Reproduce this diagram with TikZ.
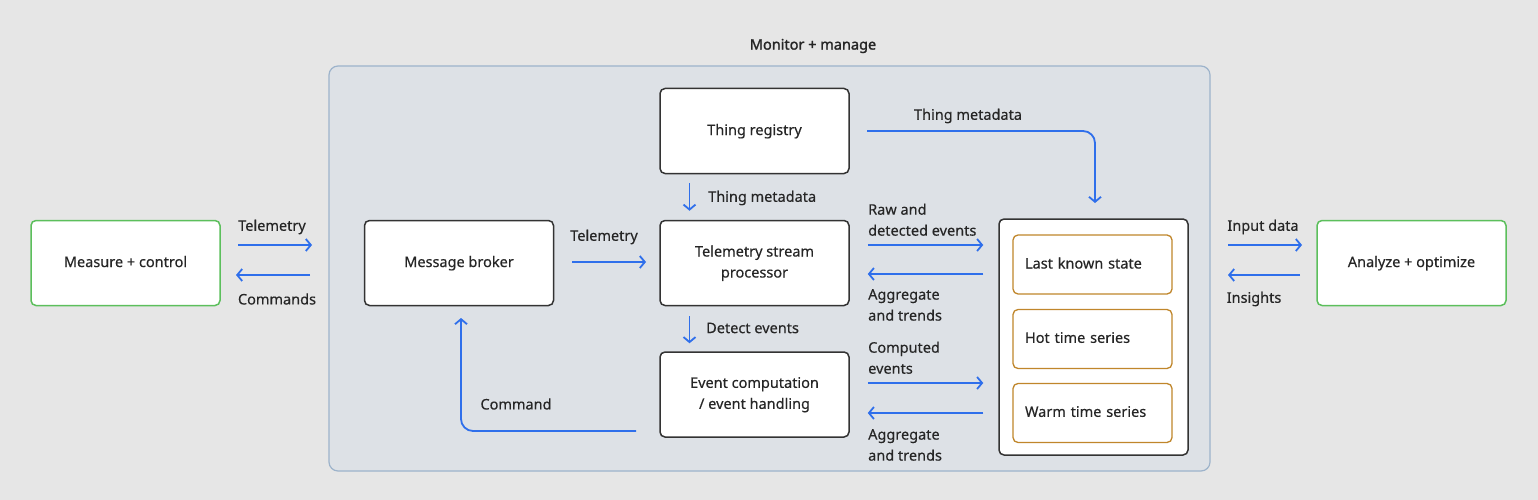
\documentclass[tikz,border=0pt]{standalone}
\usepackage{fontspec}
\setmainfont{Noto Sans}[FakeBold=0.35]
\newfontfamily\titlefont{Noto Sans}[FakeBold=1.6]
\usetikzlibrary{arrows.meta,positioning}
\definecolor{pagebg}{HTML}{E6E6E6}
\definecolor{panelbg}{HTML}{DDE1E6}
\definecolor{panelline}{HTML}{9DB3CB}
\definecolor{boxline}{HTML}{333333}
\definecolor{extgreen}{HTML}{5CBF5C}
\definecolor{storeline}{HTML}{C0862B}
\definecolor{flowblue}{HTML}{2F6FEB}
\definecolor{txt}{HTML}{262626}

\begin{document}
\begin{tikzpicture}[x=1pt,y=-1pt,
    box/.style={draw=boxline, fill=white, line width=1.5pt, rounded corners=5pt,
      minimum width=189pt, minimum height=85pt, align=center, text=txt,
      font=\fontsize{14.5}{21}\selectfont, text depth=0.3em},
    ext/.style={box, draw=extgreen},
    storebox/.style={box, draw=storeline, line width=1.3pt, minimum width=159pt,
      minimum height=59pt, text width=135pt, align=left},
    flow/.style={draw=flowblue, line width=1.8pt,
      -{Straight Barb[length=5pt,width=12pt]}},
    lbl/.style={text=txt, font=\fontsize{14.5}{21}\selectfont, align=left, inner sep=0pt}]
  \useasboundingbox[fill=pagebg] (0,0) rectangle (1538,500);

  % monitor + manage panel
  \node (panel) [draw=panelline, fill=panelbg, line width=1.2pt, rounded corners=9pt,
    minimum width=881pt, minimum height=405pt] at (769.5,268.5) {};
  \node (title) [lbl, font=\fontsize{14.5}{21}\titlefont] at (813,46) {Monitor + manage};

  \node (measure) [ext] at (125.5,263) {Measure + control};
  \node (analyze) [ext] at (1411.5,263) {Analyze + optimize};
  \node (broker) [box] at (459,263) {Message broker};
  \node (registry) [box] at (754.5,131) {Thing registry};
  \node (stream) [box] at (754.5,263) {Telemetry stream\\processor};
  \node (event) [box] at (754.5,394.5) {Event computation\\/ event handling};

  \node (store) [box, minimum height=236pt] at (1093.5,337) {};
  \node (last) [storebox] at (1092.5,264.5) {Last known state};
  \node (hot) [storebox] at (1092.5,339) {Hot time series};
  \node (warm) [storebox] at (1092.5,413) {Warm time series};

  % connector end points
  \coordinate (c1) at (238,245);  \coordinate (c2) at (312,245);
  \coordinate (c3) at (310,275);  \coordinate (c4) at (236,275);
  \coordinate (c5) at (572,262);  \coordinate (c6) at (646,262);
  \coordinate (c7) at (867,131);  \coordinate (c8) at (1095,203);
  \coordinate (c9) at (636,431);  \coordinate (c10) at (461,318);
  \coordinate (i1) at (1228,245); \coordinate (i2) at (1302,245);
  \coordinate (i3) at (1300,275); \coordinate (i4) at (1228,275);

  \draw[flow] (c1) -- (c2);
  \draw[flow] (c3) -- (c4);
  \draw[flow] (i1) -- (i2);
  \draw[flow] (i3) -- (i4);
  \draw[flow] (c5) -- (c6);
  \draw[flow, rounded corners=12pt] (c7) -| (c8);
  \draw[flow, rounded corners=12pt] (c9) -| (c10);
  \draw[flow] ([xshift=-65pt,yshift=-9pt]registry.south) -- ([xshift=-65pt,yshift=9pt]stream.north);
  \draw[flow] ([xshift=-65pt,yshift=-10pt]stream.south) -- ([xshift=-65pt,yshift=8pt]event.north);
  \draw[flow] ([xshift=18pt,yshift=18pt]stream.east) -- ([xshift=-15pt,yshift=92pt]store.west);
  \draw[flow] ([xshift=-15pt,yshift=63pt]store.west) -- ([xshift=18pt,yshift=-11pt]stream.east);
  \draw[flow] ([xshift=18pt,yshift=11.5pt]event.east) -- ([xshift=-15pt,yshift=-46pt]store.west);
  \draw[flow] ([xshift=-15pt,yshift=-76pt]store.west) -- ([xshift=18pt,yshift=-18.5pt]event.east);

  % connector labels
  \node [lbl] at (272,227) {Telemetry};
  \node [lbl] at (277,299) {Commands};
  \node [lbl] at (1263,227) {Input data};
  \node [lbl] at (1254,299) {Insights};
  \node [lbl] at (604,237) {Telemetry};
  \node [lbl] at (968,116) {Thing metadata};
  \node [lbl, anchor=west] at (708,198) {Thing metadata};
  \node [lbl, anchor=west] at (706,328) {Detect events};
  \node [lbl] at (516,404) {Command};
  \node [lbl, anchor=south west] at (868,236) {Raw and\\detected events};
  \node [lbl, anchor=north west] at (868,289) {Aggregate\\and trends};
  \node [lbl, anchor=south west] at (868,374) {Computed\\events};
  \node [lbl, anchor=north west] at (868,429) {Aggregate\\and trends};
\end{tikzpicture}
\end{document}
